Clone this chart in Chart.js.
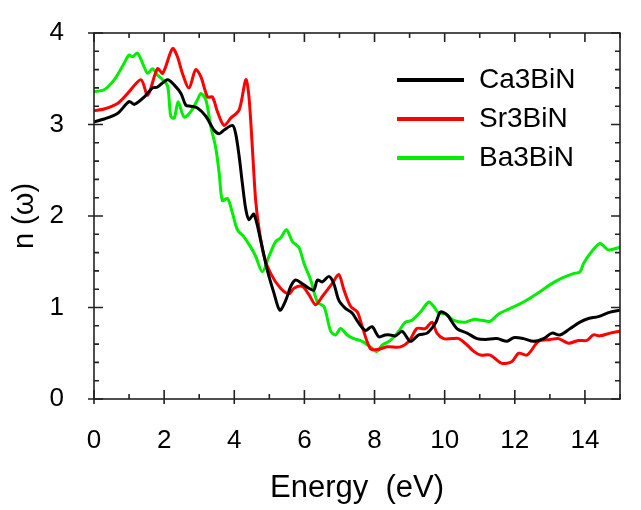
<!DOCTYPE html>
<html>
<head>
<meta charset="utf-8">
<script src="https://cdn.jsdelivr.net/npm/chart.js@4/dist/chart.umd.min.js"></script>
<style>
html,body{margin:0;padding:0;background:#fff;}
#wrap{width:641px;height:510px;position:relative;}
</style>
</head>
<body>
<div id="wrap"><canvas id="c" width="641" height="510"></canvas></div>
<script>
// ---- data ----
const seriesNames = ["Ca3BiN", "Sr3BiN", "Ba3BiN"];
const xTickLabels = [0, 2, 4, 6, 8, 10, 12, 14];
const yTickLabels = [0, 1, 2, 3, 4];

const caE = [0,0.29,0.67,1.0,1.15,1.43,1.67,1.81,2.10,2.29,2.48,2.62,2.76,2.95,3.19,3.42,3.57,3.71,3.95,4.04,4.14,4.23,4.33,4.42,4.56,4.75,4.94,5.13,5.30,5.47,5.61,5.75,5.94,6.13,6.27,6.37,6.51,6.70,6.84,6.98,7.17,7.36,7.55,7.74,7.93,8.12,8.31,8.45,8.60,8.79,9.02,9.26,9.50,9.74,9.88,10.07,10.35,10.64,10.92,11.16,11.49,11.78,11.96,12.25,12.53,12.82,13.06,13.29,13.58,13.86,14.10,14.38,14.72,15];
const caN = [3.03,3.06,3.12,3.25,3.22,3.30,3.40,3.41,3.49,3.43,3.34,3.21,3.20,3.18,3.09,2.94,2.90,2.94,2.99,2.90,2.65,2.36,2.07,1.96,2.02,1.74,1.41,1.16,0.97,1.08,1.23,1.30,1.26,1.21,1.19,1.30,1.28,1.34,1.26,1.08,0.99,0.94,0.83,0.75,0.79,0.68,0.70,0.70,0.69,0.74,0.63,0.70,0.72,0.83,0.95,0.92,0.77,0.72,0.66,0.65,0.66,0.63,0.67,0.66,0.63,0.66,0.72,0.70,0.77,0.84,0.88,0.90,0.95,0.97];

const srE = [0,0.29,0.67,0.96,1.34,1.53,1.81,1.96,2.24,2.38,2.52,2.71,2.90,3.05,3.24,3.38,3.52,3.71,3.90,4.14,4.33,4.42,4.52,4.61,4.71,4.85,5.04,5.32,5.56,5.70,5.94,6.13,6.32,6.51,6.79,6.98,7.13,7.32,7.51,7.65,7.88,8.08,8.36,8.74,8.98,9.21,9.45,9.64,9.78,9.97,10.21,10.40,10.64,10.83,11.02,11.30,11.63,11.92,12.11,12.35,12.68,13.01,13.25,13.53,13.81,14.05,14.24,14.43,14.72,15];
const srN = [3.15,3.17,3.23,3.34,3.49,3.32,3.61,3.56,3.83,3.74,3.56,3.40,3.60,3.52,3.30,3.30,3.14,2.99,3.07,3.16,3.49,3.30,2.72,2.17,1.85,1.56,1.37,1.21,1.15,1.21,1.23,1.14,1.03,1.12,1.26,1.36,1.19,1.01,0.95,0.79,0.55,0.54,0.57,0.57,0.63,0.77,0.77,0.84,0.72,0.66,0.66,0.66,0.59,0.52,0.48,0.48,0.39,0.41,0.50,0.48,0.63,0.65,0.66,0.61,0.64,0.64,0.70,0.69,0.72,0.74];

const baE = [0,0.29,0.58,0.86,1.0,1.10,1.24,1.43,1.53,1.67,1.81,1.96,2.10,2.19,2.29,2.40,2.57,2.76,2.95,3.05,3.19,3.33,3.47,3.57,3.66,3.81,3.95,4.09,4.28,4.47,4.61,4.80,4.99,5.18,5.32,5.49,5.66,5.84,5.99,6.18,6.37,6.56,6.75,6.89,7.03,7.22,7.41,7.65,7.88,8.06,8.22,8.45,8.69,8.88,9.07,9.31,9.55,9.69,9.83,10.02,10.26,10.59,10.83,11.06,11.30,11.54,11.87,12.25,12.63,13.01,13.34,13.67,13.86,13.96,14.15,14.43,14.67,15];
const baN = [3.36,3.38,3.49,3.67,3.76,3.74,3.78,3.63,3.56,3.61,3.54,3.49,3.42,3.09,3.07,3.25,3.08,3.14,3.27,3.34,3.27,2.98,2.75,2.47,2.17,2.19,2.03,1.85,1.77,1.66,1.56,1.39,1.56,1.72,1.76,1.85,1.72,1.66,1.48,1.30,1.06,1.01,0.74,0.70,0.77,0.70,0.66,0.63,0.57,0.52,0.59,0.64,0.74,0.84,0.86,0.95,1.06,1.01,0.94,0.93,0.86,0.84,0.87,0.86,0.85,0.93,0.99,1.06,1.15,1.25,1.32,1.37,1.39,1.48,1.59,1.70,1.63,1.66];

// ---- build ----
const colors = ["#000000", "#ff0000", "#00ee00"];
const pairs = (xs, ys) => xs.map((x, i) => ({x: x, y: ys[i]}));
const allE = [caE, srE, baE];
const allN = [caN, srN, baN];

const FONT = "'Liberation Sans', Arial, sans-serif";

const frameTicks = {
  id: 'frameTicks',
  afterDatasetsDraw(chart) {
    const {ctx, chartArea: a, scales: {x, y}} = chart;
    ctx.save();
    ctx.strokeStyle = '#222';
    ctx.lineWidth = 1.6;
    ctx.strokeRect(a.left, a.top, a.right - a.left, a.bottom - a.top);
    ctx.beginPath();
    for (let v = 0; v <= 15.0001; v += 1) {
      const px = x.getPixelForValue(v);
      const major = Math.round(v) % 2 === 0;
      const inL = major ? 9 : 5;
      ctx.moveTo(px, a.bottom + (major ? 5 : 0)); ctx.lineTo(px, a.bottom - inL);
      ctx.moveTo(px, a.top); ctx.lineTo(px, a.top + inL);
    }
    for (let k = 0; k <= 20; k++) {
      const v = k * 0.2;
      const py = y.getPixelForValue(v);
      const major = k % 5 === 0;
      const inL = major ? 9 : 5;
      ctx.moveTo(a.left - (major ? 6 : 0), py); ctx.lineTo(a.left + inL, py);
      ctx.moveTo(a.right, py); ctx.lineTo(a.right - inL, py);
    }
    ctx.stroke();

    // legend
    const lx0 = 397, lx1 = 464, tx = 479;
    const rows = [80, 119, 158];
    ctx.font = "28px " + FONT;
    ctx.textBaseline = 'middle';
    ctx.textAlign = 'left';
    seriesNames.forEach((name, i) => {
      ctx.strokeStyle = colors[i];
      ctx.lineWidth = 4;
      ctx.beginPath();
      ctx.moveTo(lx0, rows[i]); ctx.lineTo(lx1, rows[i]);
      ctx.stroke();
      ctx.fillStyle = '#000';
      ctx.fillText(name, tx, rows[i]);
    });
    ctx.restore();
  }
};

new Chart(document.getElementById('c'), {
  type: 'line',
  data: {
    datasets: seriesNames.map((name, i) => ({
      label: name,
      data: pairs(allE[i], allN[i]),
      borderColor: colors[i],
      backgroundColor: colors[i],
      borderWidth: 3,
      pointRadius: 0,
      tension: 0.3,
      fill: false
    }))
  },
  options: {
    responsive: false,
    animation: false,
    devicePixelRatio: 1,
    layout: {padding: {left: 0, right: 21, top: 33, bottom: 0}},
    plugins: {legend: {display: false}, tooltip: {enabled: false}},
    scales: {
      x: {
        type: 'linear', min: 0, max: 15,
        afterBuildTicks: s => { s.ticks = xTickLabels.map(v => ({value: v})); },
        afterFit: s => { s.height = 111; s.paddingLeft = 0; s.paddingRight = 0; },
        grid: {display: false},
        border: {display: false},
        ticks: {color: '#000', font: {family: FONT, size: 26}, padding: 18, maxRotation: 0},
        title: {display: true, text: 'Energy  (eV)', color: '#000', font: {family: FONT, size: 31}, padding: {top: 8, bottom: 3}}
      },
      y: {
        type: 'linear', min: 0, max: 4,
        afterBuildTicks: s => { s.ticks = yTickLabels.map(v => ({value: v})); },
        afterFit: s => { s.width = 94; s.paddingTop = 0; s.paddingBottom = 0; },
        grid: {display: false},
        border: {display: false},
        ticks: {color: '#000', font: {family: FONT, size: 26}, padding: 22},
        title: {display: true, text: 'n (ω)', color: '#000', font: {family: FONT, size: 29}, padding: {top: 8, bottom: 4}}
      }
    }
  },
  plugins: [frameTicks]
});
</script>
</body>
</html>
